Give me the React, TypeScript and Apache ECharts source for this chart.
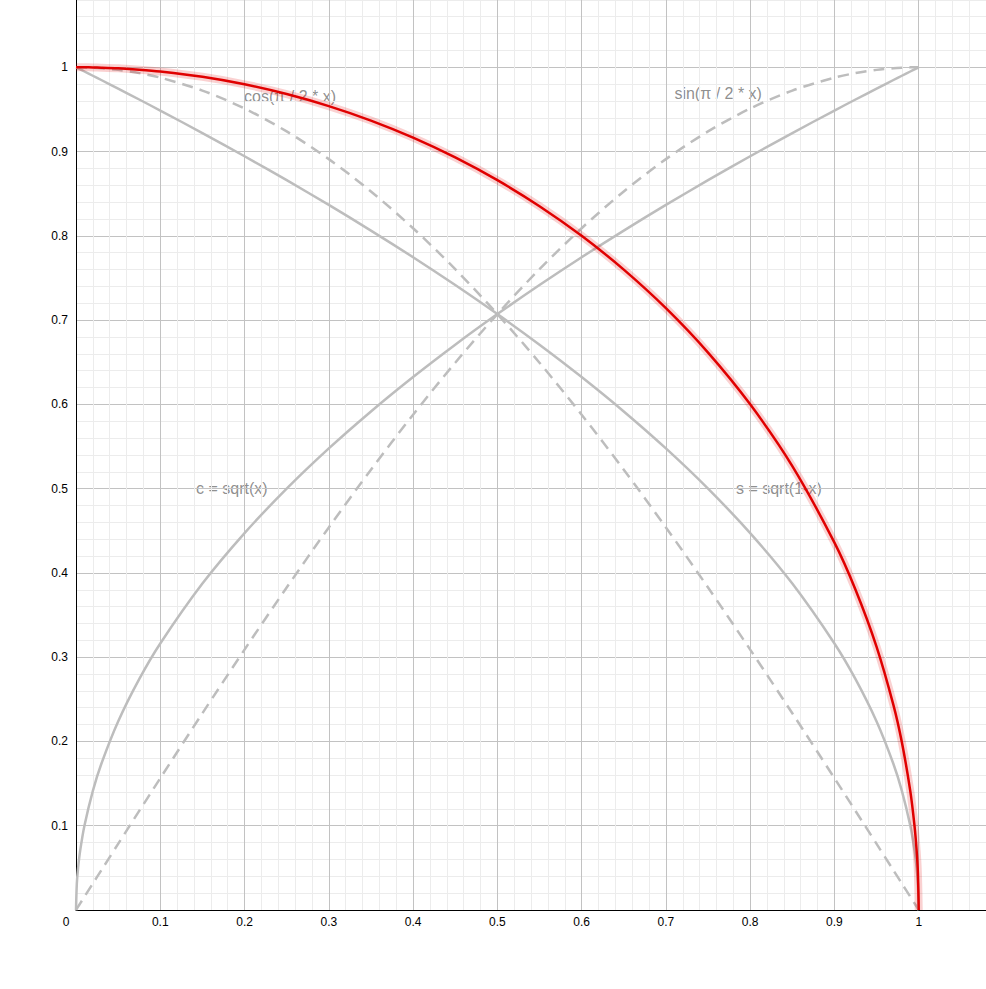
import { useEffect, useRef } from "react";
import * as echarts from "echarts";

// sample positions along x (denser near the ends, where the roots get steep)
const xs = [
  0, 0.001, 0.0025, 0.005, 0.01, 0.02, 0.03, 0.05, 0.075, 0.1, 0.15, 0.2,
  0.25, 0.3, 0.35, 0.4, 0.45, 0.5, 0.55, 0.6, 0.65, 0.7, 0.75, 0.8, 0.85, 0.9,
  0.925, 0.95, 0.97, 0.98, 0.99, 0.995, 0.9975, 0.999, 1,
];

// c = sqrt(x)
const cValues = [
  0, 0.03162, 0.05, 0.07071, 0.1, 0.14142, 0.17321, 0.22361, 0.27386, 0.31623,
  0.38730, 0.44721, 0.5, 0.54772, 0.59161, 0.63246, 0.67082, 0.70711, 0.74162,
  0.77460, 0.80623, 0.83666, 0.86603, 0.89443, 0.92195, 0.94868, 0.96177,
  0.97468, 0.98489, 0.98995, 0.99499, 0.99750, 0.99875, 0.99950, 1,
];

// s = sqrt(1-x)
const sValues = [
  1, 0.99950, 0.99875, 0.99750, 0.99499, 0.98995, 0.98489, 0.97468, 0.96177,
  0.94868, 0.92195, 0.89443, 0.86603, 0.83666, 0.80623, 0.77460, 0.74162,
  0.70711, 0.67082, 0.63246, 0.59161, 0.54772, 0.5, 0.44721, 0.38730, 0.31623,
  0.27386, 0.22361, 0.17321, 0.14142, 0.1, 0.07071, 0.05, 0.03162, 0,
];

// cos(pi / 2 * x)
const cosValues = [
  1, 1, 0.99998, 0.99997, 0.99988, 0.99951, 0.99889, 0.99692, 0.99307,
  0.98769, 0.97237, 0.95106, 0.92388, 0.89101, 0.85264, 0.80902, 0.76041,
  0.70711, 0.64945, 0.58779, 0.5225, 0.45399, 0.38268, 0.30902, 0.23345,
  0.15643, 0.11754, 0.07846, 0.04711, 0.03141, 0.01571, 0.00785, 0.00393,
  0.00157, 0,
];

// sin(pi / 2 * x)
const sinValues = [
  0, 0.00157, 0.00393, 0.00785, 0.01571, 0.03141, 0.04711, 0.07846, 0.11754,
  0.15643, 0.23345, 0.30902, 0.38268, 0.45399, 0.5225, 0.58779, 0.64945,
  0.70711, 0.76041, 0.80902, 0.85264, 0.89101, 0.92388, 0.95106, 0.97237,
  0.98769, 0.99307, 0.99692, 0.99889, 0.99951, 0.99988, 0.99997, 0.99998, 1,
  1,
];

// quarter circle, sqrt(1 - x^2)
const circleValues = [
  1, 1, 1, 0.99999, 0.99995, 0.9998, 0.99955, 0.99875, 0.99718, 0.99499,
  0.98869, 0.9798, 0.96825, 0.95394, 0.93675, 0.91652, 0.89303, 0.86603,
  0.83516, 0.8, 0.75993, 0.71414, 0.66144, 0.6, 0.52678, 0.43589, 0.37997,
  0.31225, 0.2431, 0.199, 0.14107, 0.09987, 0.07067, 0.04471, 0,
];

const curveLabels = ["cos(π / 2 * x)", "sin(π / 2 * x)", "c = sqrt(x)", "s = sqrt(1-x)"];
const labelX = [0.254, 0.762, 0.185, 0.834];
const labelY = [0.965, 0.969, 0.5, 0.5];

const FONT = "'Liberation Sans', Arial, sans-serif";

function pairs(values: number[]) {
  return xs.map((x, i) => [x, values[i]]);
}

export default function App() {
  const ref = useRef<HTMLDivElement | null>(null);

  useEffect(() => {
    const el = ref.current;
    if (!el) {
      return;
    }
    const chart = echarts.init(el, undefined, { renderer: "svg" });

    const grayLine = (name: string, values: number[], dashed: boolean) => ({
      name,
      type: "line",
      data: pairs(values),
      showSymbol: false,
      symbol: "none",
      smooth: 0.3,
      z: 2,
      lineStyle: {
        color: "#bdbdbd",
        width: 2.5,
        type: dashed ? [11, 7] : "solid",
      },
    });

    const axisBase = {
      type: "value",
      min: 0,
      max: 1.1,
      interval: 0.1,
      axisLine: { show: true, onZero: false, lineStyle: { color: "#000", width: 1 } },
      axisTick: { show: false },
      minorTick: { show: false, splitNumber: 5 },
      splitLine: { show: true, lineStyle: { color: "#c2c2c2", width: 1 } },
      minorSplitLine: { show: true, lineStyle: { color: "#ececec", width: 1 } },
    };

    chart.setOption({
      animation: false,
      // the plot runs out to 1.1 on both axes and is cropped by the outer box
      grid: { left: 76, right: 0, top: 0, bottom: 79 },
      xAxis: {
        ...axisBase,
        axisLabel: {
          color: "#000",
          fontSize: 12,
          fontFamily: FONT,
          margin: 6,
          showMaxLabel: false,
          formatter: (v: number) => (v === 0 ? "{z|0}" : String(v)),
          rich: {
            z: { padding: [0, 20, 0, 0], color: "#000", fontSize: 12, fontFamily: FONT },
          },
        },
      },
      yAxis: {
        ...axisBase,
        axisLabel: {
          color: "#000",
          fontSize: 12,
          fontFamily: FONT,
          margin: 8,
          showMaxLabel: false,
          formatter: (v: number) => (v === 0 ? "" : String(v)),
        },
      },
      series: [
        {
          type: "scatter",
          symbolSize: 0,
          z: -1,
          silent: true,
          data: curveLabels.map((name, i) => ({ name, value: [labelX[i], labelY[i]] })),
          label: {
            show: true,
            position: "inside",
            formatter: "{b}",
            color: "#727272",
            fontSize: 16,
            fontFamily: FONT,
          },
        },
        grayLine("c", cValues, false),
        grayLine("s", sValues, false),
        grayLine("cos", cosValues, true),
        grayLine("sin", sinValues, true),
        {
          name: "circle-halo",
          type: "line",
          data: pairs(circleValues),
          showSymbol: false,
          symbol: "none",
          smooth: 0.3,
          z: 3,
          silent: true,
          lineStyle: { color: "rgba(230, 0, 0, 0.18)", width: 8 },
        },
        {
          name: "circle",
          type: "line",
          data: pairs(circleValues),
          showSymbol: false,
          symbol: "none",
          smooth: 0.3,
          z: 4,
          lineStyle: { color: "#e00000", width: 2.5 },
        },
      ],
    } as echarts.EChartsOption);

    return () => {
      chart.dispose();
    };
  }, []);

  return (
    <div
      style={{
        position: "absolute",
        left: 0,
        top: 0,
        width: 986,
        height: 989,
        overflow: "hidden",
        background: "#fff",
      }}
    >
      <div
        ref={ref}
        style={{ position: "absolute", left: 0, top: -17, width: 1003, height: 1006 }}
      />
    </div>
  );
}
